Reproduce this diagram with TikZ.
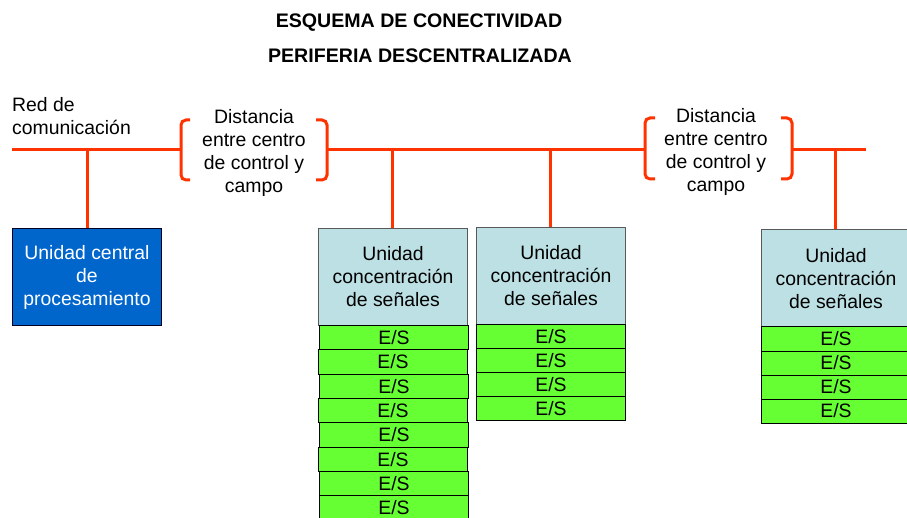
\documentclass[tikz,border=0pt]{standalone}
\usepackage{fontspec}
\setmainfont{Liberation Sans}
\definecolor{busred}{RGB}{255,51,0}
\definecolor{cpublue}{RGB}{0,102,204}
\definecolor{unitblue}{RGB}{188,224,227}
\definecolor{esgreen}{RGB}{102,255,51}
\tikzset{
  bus/.style={draw=busred, line width=3pt},
  txt/.style={font=\fontsize{19.4}{23}\selectfont, align=center, inner sep=0pt},
  titletxt/.style={font=\bfseries\fontsize{19.6}{22}\selectfont, inner sep=0pt},
  cpubox/.style={txt, draw=black!85!blue, line width=1pt, fill=cpublue, text=white, anchor=north west, minimum width=149pt, minimum height=97pt},
  unitbox/.style={txt, draw=black!65, line width=1pt, fill=unitblue, anchor=north west, minimum width=149pt, minimum height=97pt},
  esbox/.style={txt, draw=black, line width=1pt, fill=esgreen, anchor=north west, minimum width=149pt},
}
\begin{document}
\begin{tikzpicture}[x=1pt,y=-1pt]
\useasboundingbox (0,0) rectangle (907,518);
\clip (0,0) rectangle (907,518);

% titles
\node[titletxt] (t1) at (419,23) {ESQUEMA DE CONECTIVIDAD};
\node[titletxt] (t2) at (420,56) {PERIFERIA DESCENTRALIZADA};

% labels
\node[txt, align=left, anchor=west] (red) at (12,116.5) {Red de\\comunicación};
\node[txt] (dist1) at (254,152.5) {Distancia\\entre centro\\de control y\\campo};
\node[txt] (dist2) at (716,152) {Distancia\\entre centro\\de control y\\campo};

% bus coordinates
\coordinate (b0) at (12,150);
\coordinate (b1) at (181,150);
\coordinate (b2) at (327,150);
\coordinate (b3) at (645,150);
\coordinate (b4) at (792,150);
\coordinate (b5) at (866,150);
\coordinate (tap1) at (87,150);
\coordinate (tap2) at (392,150);
\coordinate (tap3) at (550,150);
\coordinate (tap4) at (835,150);

% boxes
\node[cpubox] (cpu) at (12,228) {Unidad central\\de\\procesamiento};
\node[unitbox] (u1) at (318,228) {Unidad\\concentración\\de señales};
\node[unitbox] (u2) at (476,227) {Unidad\\concentración\\de señales};
\node[unitbox] (u3) at (761,229.5) {Unidad\\concentración\\de señales};

% E/S rows
\foreach \i/\dx in {0/1,1/0,2/1,3/0,4/1,5/0,6/1,7/1} {
  \node[esbox, minimum height=24.3pt] (esa\i) at (318+\dx,325+24.3*\i) {E/S};
}
\foreach \i in {0,...,3} {
  \node[esbox, minimum height=24pt] (esb\i) at (476,324+24*\i) {E/S};
}
\foreach \i in {0,...,3} {
  \node[esbox, minimum height=24pt] (esc\i) at (761,326.5+24*\i) {E/S};
}

% bus
\draw[bus] (b0) -- (b1);
\draw[bus] (b2) -- (b3);
\draw[bus] (b4) -- (b5);
% brackets
\draw[bus, rounded corners=5pt] (190,120) -- (181,120) -- (181,180) -- (190,180);
\draw[bus, rounded corners=5pt] (316,120) -- (327,120) -- (327,180) -- (316,180);
\draw[bus, rounded corners=5pt] (655,118) -- (645,118) -- (645,179) -- (655,179);
\draw[bus, rounded corners=5pt] (781,118) -- (792,118) -- (792,179) -- (781,179);
% taps
\draw[bus] (tap1) -- (tap1 |- cpu.north);
\draw[bus] (tap2) -- (tap2 |- u1.north);
\draw[bus] (tap3) -- (tap3 |- u2.north);
\draw[bus] (tap4) -- (tap4 |- u3.north);
\end{tikzpicture}
\end{document}
